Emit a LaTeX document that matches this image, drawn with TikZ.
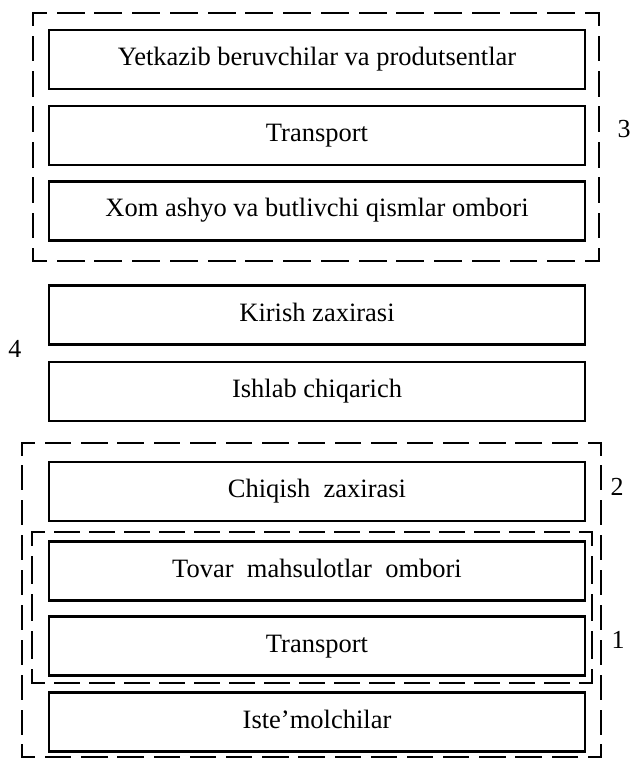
\documentclass[tikz,border=0pt]{standalone}
\usepackage{fontspec}
\setmainfont{Liberation Serif}
\begin{document}
\begin{tikzpicture}[x=1pt,y=-1pt,
  blk/.style={draw=black, line width=2.2pt, minimum width=536pt, minimum height=59pt,
    inner sep=0pt, text height=18pt, text depth=6pt, font=\fontsize{26.5}{30}\selectfont},
  grp/.style={draw=black, line width=2.2pt, line cap=rect},
  dsh/.style 2 args={dash pattern=on #1pt off 12pt, dash phase=#2pt},
  num/.style={font=\fontsize{26}{30}\selectfont, inner sep=0pt}]
\useasboundingbox (0,0) rectangle (631,759);
\node[blk] (b1) at (317,59.5) {Yetkazib beruvchilar va produtsentlar};
\node[blk] (b2) at (317,135.5) {Transport};
\node[blk] (b3) at (317,211) {Xom ashyo va butlivchi qismlar ombori};
\node[blk] (b4) at (317,315) {Kirish zaxirasi};
\node[blk] (b5) at (317,391.5) {Ishlab chiqarich};
\node[blk] (b6) at (317,491.5) {Chiqish\ \ zaxirasi};
\node[blk] (b7) at (317,571) {Tovar\ \ mahsulotlar\ \ ombori};
\node[blk] (b8) at (317,646) {Transport};
\node[blk] (b9) at (317,722) {Iste’molchilar};
% group 3
\coordinate (g3a) at (33,13);  \coordinate (g3b) at (599,13);
\coordinate (g3c) at (599,261); \coordinate (g3d) at (33,261);
\draw[grp, dsh={25.73}{12.87}] (g3a) -- (g3b);
\draw[grp, dsh={25.73}{12.87}] (g3d) -- (g3c);
\draw[grp, dsh={23.43}{11.71}] (g3a) -- (g3d);
\draw[grp, dsh={23.43}{11.71}] (g3b) -- (g3c);
% group 2
\coordinate (g2a) at (22,443);  \coordinate (g2b) at (601,443);
\coordinate (g2c) at (601,757); \coordinate (g2d) at (22,757);
\draw[grp, dsh={24.19}{12.09}] (g2a) -- (g2b);
\draw[grp, dsh={24.19}{12.09}] (g2d) -- (g2c);
\draw[grp, dsh={22.89}{11.44}] (g2a) -- (g2d);
\draw[grp, dsh={22.89}{11.44}] (g2b) -- (g2c);
% group 1
\coordinate (g1a) at (32,532);  \coordinate (g1b) at (592,532);
\coordinate (g1c) at (592,683); \coordinate (g1d) at (32,683);
\draw[grp, dsh={23}{11.5}] (g1a) -- (g1b);
\draw[grp, dsh={23}{11.5}] (g1d) -- (g1c);
\draw[grp, dsh={25.75}{12.875}] (g1a) -- (g1d);
\draw[grp, dsh={25.75}{12.875}] (g1b) -- (g1c);
\node[num] (n3) at (624,129) {3};
\node[num] (n4) at (15,349) {4};
\node[num] (n2) at (617,487) {2};
\node[num] (n1) at (618,640) {1};
\end{tikzpicture}
\end{document}
